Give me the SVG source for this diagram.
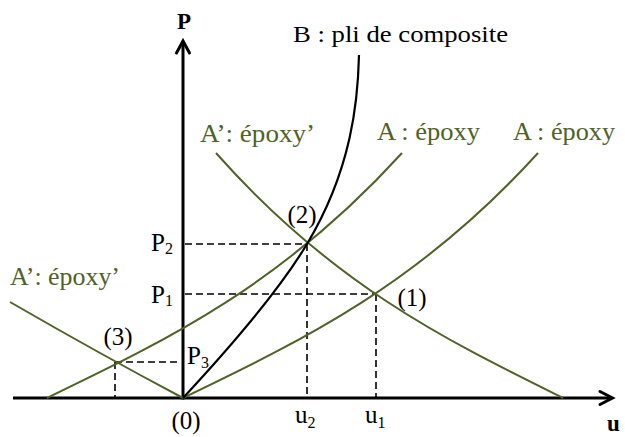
<svg xmlns="http://www.w3.org/2000/svg" width="625" height="437" viewBox="0 0 625 437">
<defs>
<style>
.ax{stroke:#000;stroke-width:3;fill:none;stroke-linecap:butt}
.arr{stroke:#000;stroke-width:3;fill:none;stroke-linecap:round;stroke-linejoin:miter}
.g{stroke:#4F6228;stroke-width:2;fill:none}
.b{stroke:#000;stroke-width:2.2;fill:none}
.d{stroke:#000;stroke-width:1.6;stroke-dasharray:7 4;fill:none}
.t{font-family:'Liberation Serif','Times New Roman',Times,serif;font-size:25px;fill:#000}
.gt{fill:#4F6228}
.sub{font-size:16px}
.bold{font-weight:bold;font-size:23px}
</style>
</defs>
<rect width="625" height="437" fill="#fff"/>
<g id="axes">
<line class="ax" x1="13" y1="398" x2="612" y2="398"/>
<polyline class="arr" points="600,391.5 612.5,398 600,404.5"/>
<line class="ax" x1="183" y1="399.5" x2="183" y2="42"/>
<polyline class="arr" points="176.5,53 183,41 189.5,53"/>
<text id="label-P" class="t bold" x="184" y="29" text-anchor="middle">P</text>
<text id="label-u" class="t bold" x="613.5" y="431" text-anchor="middle">u</text>
</g>
<g id="connectors">
<g id="guides">
<line class="d" x1="185" y1="244" x2="307" y2="244"/>
<line class="d" x1="307" y1="244" x2="307" y2="397"/>
<line class="d" x1="185" y1="294" x2="376" y2="294"/>
<line class="d" x1="376" y1="294" x2="376" y2="397"/>
<line class="d" x1="115" y1="362" x2="181" y2="362"/>
<line class="d" x1="115" y1="362" x2="115" y2="397"/>
</g>
<path id="curve-A1" class="g" d="M183,398 C303,340 418,285 538,153"/>
<path id="curve-A2" class="g" d="M47,398 C167,340 282,285 402,153"/>
<path id="curve-Ap1" class="g" d="M563,398 C446,340 333,285 216,153"/>
<path id="curve-Ap2" class="g" d="M10,302 Q100,354 183,398"/>
<path id="curve-B" class="b" d="M183,398 C223,355 277,294 307,244 C352,169 358,100 359,55"/>
</g>
<g id="curve-labels">
<text id="label-B" class="t" x="293" y="42" textLength="215" lengthAdjust="spacingAndGlyphs" style="font-size:23px">B : pli de composite</text>
<text id="label-A-mid" class="t gt" x="377" y="140" textLength="103" lengthAdjust="spacingAndGlyphs">A : époxy</text>
<text id="label-A-right" class="t gt" x="513" y="140" textLength="102" lengthAdjust="spacingAndGlyphs">A : époxy</text>
<text id="label-Ap-top" class="t gt" x="200" y="142" textLength="115" lengthAdjust="spacingAndGlyphs">A’: époxy’</text>
<text id="label-Ap-left" class="t gt" x="10" y="285" textLength="110" lengthAdjust="spacingAndGlyphs">A’: époxy’</text>
</g>
<g id="point-labels">
<text id="pt0" class="t" x="186" y="429" text-anchor="middle">(0)</text>
<text id="pt1" class="t" x="412" y="306" text-anchor="middle">(1)</text>
<text id="pt2" class="t" x="302" y="223" text-anchor="middle">(2)</text>
<text id="pt3" class="t" x="118" y="345" text-anchor="middle">(3)</text>
</g>
<g id="axis-labels">
<text id="P2" class="t" x="151" y="251">P<tspan class="sub" dy="3">2</tspan></text>
<text id="P1" class="t" x="151" y="303">P<tspan class="sub" dy="3">1</tspan></text>
<text id="P3" class="t" x="187" y="364">P<tspan class="sub" dy="4">3</tspan></text>
<text id="u2" class="t" x="295" y="423">u<tspan class="sub" dy="5">2</tspan></text>
<text id="u1" class="t" x="365" y="423">u<tspan class="sub" dy="5">1</tspan></text>
</g>
</svg>
